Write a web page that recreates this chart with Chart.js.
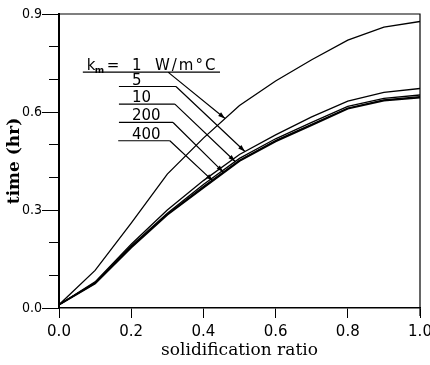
<!DOCTYPE html>
<html>
<head>
<meta charset="utf-8">
<script src="https://cdn.jsdelivr.net/npm/chart.js@4.4.1/dist/chart.umd.min.js"></script>
<style>
html, body { margin: 0; padding: 0; background: #fff; }
#wrap { width: 430px; height: 365px; }
</style>
</head>
<body>
<div id="wrap"><canvas id="chart" width="430" height="365"></canvas></div>
<script>
// solidification ratio (x) and time in hours for each wall conductivity k_m
const ratio = [0.0, 0.1, 0.2, 0.3, 0.4, 0.5, 0.6, 0.7, 0.8, 0.9, 1.0];
const kmValues = ['1', '5', '10', '200', '400'];
const timeK1   = [0.01, 0.115, 0.26, 0.41, 0.52, 0.62, 0.695, 0.76, 0.82, 0.86, 0.877];
const timeK5   = [0.01, 0.080, 0.195, 0.300, 0.390, 0.470, 0.530, 0.585, 0.633, 0.660, 0.672];
const timeK10  = [0.01, 0.078, 0.190, 0.290, 0.378, 0.458, 0.518, 0.568, 0.617, 0.642, 0.652];
const timeK200 = [0.01, 0.076, 0.187, 0.287, 0.372, 0.452, 0.512, 0.562, 0.612, 0.637, 0.647];
const timeK400 = [0.01, 0.075, 0.185, 0.285, 0.368, 0.450, 0.510, 0.560, 0.610, 0.635, 0.644];
const xTicks = [0.0, 0.2, 0.4, 0.6, 0.8, 1.0];
const yLabelTicks = [0.0, 0.3, 0.6, 0.9];

const series = [timeK1, timeK5, timeK10, timeK200, timeK400];
const lineWidths = [1.3, 1.3, 1.3, 1.4, 1.8];

// callout leaders, in axis units (label row, underline start/elbow, arrow tip x)
const callouts = {
  rowY:    [0.722, 0.678, 0.624, 0.568, 0.512],
  startX:  [0.066, 0.166, 0.166, 0.166, 0.164],
  elbowX:  [0.302, 0.324, 0.321, 0.316, 0.307],
  tipX:    [0.460, 0.515, 0.488, 0.455, 0.426],
  textX: 0.202
};

function curvePointAt(chart, di, xv) {
  const pts = chart.getDatasetMeta(di).data;
  const px = chart.scales.x.getPixelForValue(xv);
  for (let i = 1; i < pts.length; i++) {
    if (pts[i].x >= px) {
      const p0 = pts[i - 1], p1 = pts[i];
      const f = (px - p0.x) / (p1.x - p0.x);
      return { x: px, y: p0.y + f * (p1.y - p0.y) };
    }
  }
  return pts[pts.length - 1];
}

function arrowHead(ctx, x0, y0, x1, y1) {
  const ang = Math.atan2(y1 - y0, x1 - x0);
  const len = 7, half = 2.3;
  ctx.beginPath();
  ctx.moveTo(x1, y1);
  ctx.lineTo(x1 - len * Math.cos(ang) + half * Math.sin(ang), y1 - len * Math.sin(ang) - half * Math.cos(ang));
  ctx.lineTo(x1 - len * Math.cos(ang) - half * Math.sin(ang), y1 - len * Math.sin(ang) + half * Math.cos(ang));
  ctx.closePath();
  ctx.fill();
}

const decorPlugin = {
  id: 'decor',
  afterDraw(chart) {
    const { ctx, chartArea: a, scales: { x, y } } = chart;
    ctx.save();
    ctx.strokeStyle = '#000';
    ctx.fillStyle = '#000';

    // top and right frame
    ctx.lineWidth = 1.2;
    ctx.beginPath();
    ctx.moveTo(a.left, a.top);
    ctx.lineTo(a.right, a.top);
    ctx.lineTo(a.right, a.bottom + 8);
    ctx.stroke();

    // longer ticks next to labelled y values
    ctx.lineWidth = 1;
    yLabelTicks.forEach(v => {
      const py = Math.round(y.getPixelForValue(v)) + 0.5;
      ctx.beginPath();
      ctx.moveTo(a.left - 17, py);
      ctx.lineTo(a.left - 9, py);
      ctx.stroke();
    });

    // callout leaders and arrows
    ctx.lineWidth = 1.2;
    kmValues.forEach((k, i) => {
      const ry = y.getPixelForValue(callouts.rowY[i]);
      const sx = x.getPixelForValue(callouts.startX[i]);
      const ex = x.getPixelForValue(callouts.elbowX[i]);
      const tip = curvePointAt(chart, i, callouts.tipX[i]);
      const endX = i === 0 ? x.getPixelForValue(0.446) : ex;
      ctx.beginPath();
      ctx.moveTo(sx, ry);
      ctx.lineTo(endX, ry);
      ctx.moveTo(ex, ry);
      ctx.lineTo(tip.x, tip.y);
      ctx.stroke();
      arrowHead(ctx, ex, ry, tip.x, tip.y);

      ctx.font = '15px "DejaVu Sans"';
      ctx.textBaseline = 'alphabetic';
      ctx.textAlign = 'left';
      const tx = x.getPixelForValue(callouts.textX);
      ctx.fillText(k, tx, ry - 2);
      if (i === 0) {
        const kx = x.getPixelForValue(0.077);
        ctx.fillText('k', kx, ry - 2);
        ctx.font = 'bold 9px "DejaVu Sans"';
        ctx.fillText('m', kx + 8, ry + 1);
        ctx.font = '15px "DejaVu Sans"';
        ctx.fillText('=', kx + 20, ry - 2);
        ctx.letterSpacing = '2px';
        ctx.fillText('W/m\u00B0C', tx + 23, ry - 2);
        ctx.letterSpacing = '0px';
      }
    });
    ctx.restore();
  }
};

new Chart(document.getElementById('chart').getContext('2d'), {
  type: 'line',
  data: {
    datasets: series.map((d, i) => ({
      label: 'k_m = ' + kmValues[i],
      data: d.map((v, j) => ({ x: ratio[j], y: v })),
      borderColor: '#000',
      borderWidth: lineWidths[i],
      pointRadius: 0,
      tension: 0,
      fill: false
    }))
  },
  options: {
    responsive: false,
    animation: false,
    layout: { padding: { top: 14, right: 10, left: 0, bottom: 0 } },
    plugins: { legend: { display: false }, tooltip: { enabled: false } },
    scales: {
      x: {
        type: 'linear',
        min: 0,
        max: 1,
        afterFit: s => { s.height = 57; s.paddingLeft = 0; s.paddingRight = 0; },
        afterBuildTicks: s => { s.ticks = xTicks.map(v => ({ value: v })); },
        ticks: {
          autoSkip: false,
          maxRotation: 0,
          padding: 5,
          color: '#000',
          font: { family: 'DejaVu Sans', size: 15 },
          callback: v => v.toFixed(1)
        },
        grid: { drawOnChartArea: false, tickLength: 10, color: '#000', lineWidth: 1 },
        border: { color: '#000', width: 1.5 },
        title: {
          display: true,
          text: 'solidification ratio',
          color: '#000',
          font: { family: 'DejaVu Serif', size: 17 },
          padding: { top: 0, bottom: 4 }
        }
      },
      y: {
        min: 0,
        max: 0.9,
        afterFit: s => { s.width = 59; s.paddingTop = 0; s.paddingBottom = 0; },
        ticks: {
          stepSize: 0.1,
          autoSkip: false,
          padding: 7,
          color: '#000',
          font: { family: 'DejaVu Sans Condensed', size: 14 },
          callback: v => (Math.round(v * 10) % 3 === 0 ? v.toFixed(1) : '')
        },
        grid: { drawOnChartArea: false, tickLength: 10, color: '#000', lineWidth: 1 },
        border: { color: '#000', width: 2 },
        title: {
          display: true,
          text: 'time (hr)',
          color: '#000',
          font: { family: 'DejaVu Serif', size: 17, weight: 'bold' },
          padding: { top: 4, bottom: 0 }
        }
      }
    }
  },
  plugins: [decorPlugin]
});
</script>
</body>
</html>
